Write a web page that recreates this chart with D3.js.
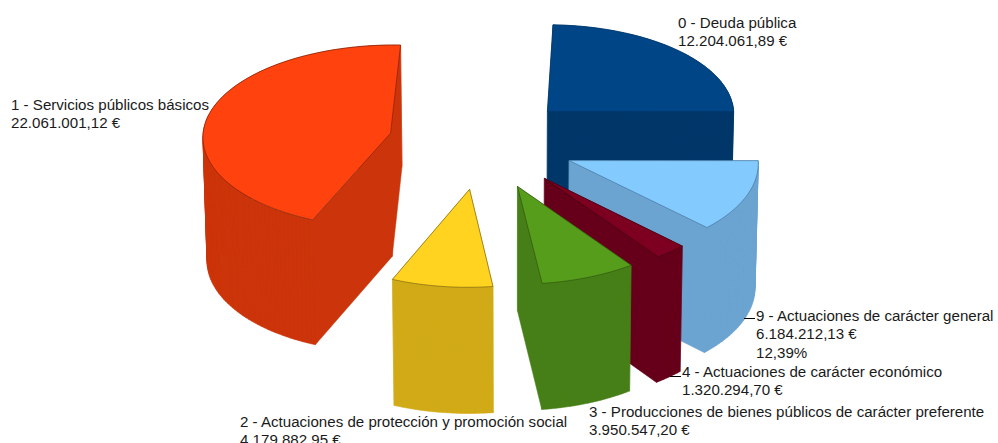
<!DOCTYPE html>
<html>
<head>
<meta charset="utf-8">
<style>
body { margin: 0; background: #fff; overflow: hidden; }
text { font-family: "Liberation Sans", Arial, sans-serif; font-size: 15.1px; fill: #1a1a1a; }
</style>
<script src="https://cdn.jsdelivr.net/npm/d3@7"></script>
</head>
<body>
<script>
// data, clockwise from the top of the pie
var categories = ["0 - Deuda pública", "9 - Actuaciones de carácter general", "4 - Actuaciones de carácter económico",
    "3 - Producciones de bienes públicos de carácter preferente", "2 - Actuaciones de protección y promoción social",
    "1 - Servicios públicos básicos"];
var values = [12204061.89, 6184212.13, 1320294.70, 3950547.20, 4179882.95, 22061001.12];
var showPercent = [false, true, false, false, false, false];

var topColors = ["#004586", "#83caff", "#7e0021", "#579d1c", "#ffd320", "#ff420e"];
var sideColors = ["#003769", "#6ca4d1", "#66001a", "#467f17", "#d1aa17", "#cc350b"];
var edgeColors = ["#003769", "#3f6f96", "#3a0010", "#2a4d0e", "#6e5a10", "#6e2006"];

// label layout: x, first baseline
var labelPos = [[678, 28], [756, 321], [682, 377], [589, 417], [240, 427], [11, 110]];
// leader lines: x1, x2, y (only where the label is moved away)
var leaders = [null, [744, 755, 318.5], [670, 681, 376.5], null, null, null];
// small sideways correction per slice
var nudge = [-3, -1, 0, 0, 0, -1];

var width = 998, height = 443;
var lineHt = 18.3;

// view of the pie
var radX = 188, radY = 90, explode = 0.5;
var cx = 483, cy = 143;
var rotate = 2;   // degrees

var svg = d3.select("body").append("svg").attr("width", width).attr("height", height);

var es = d3.formatLocale({ decimal: ",", thousands: ".", grouping: [3], currency: ["", " €"] });
var fmtMoney = es.format("$,.2f");
var fmtPct = es.format(".2%");

var pie = d3.pie().sort(null).value(function (d) { return d; })
    .startAngle(rotate * Math.PI / 180).endAngle((360 + rotate) * Math.PI / 180);
var slices = pie(values);
var total = d3.sum(values);

// rough perspective, the far side is squeezed and the near side grows
function project(mid, a, r, low) {
    var X = cx + radX * (explode * Math.sin(mid) + r * Math.sin(a));
    var t = -radY * (explode * Math.cos(mid) + r * Math.cos(a));
    var x = 525 + (X - 525) * (1 + 0.0003 * t);
    var y = cy + 1.021 * t + 0.00038 * t * t;
    if (low) {
        y += 123.5 + 0.02 * t;
        x = 515 + (x - 515) * 0.987;
    }
    return [x, y];
}

var line = d3.line();

function rim(d, low) {
    var mid = (d.startAngle + d.endAngle) / 2;
    var n = Math.ceil((d.endAngle - d.startAngle) * 40);
    return d3.range(n + 1).map(function (i) {
        return project(mid, d.startAngle + (d.endAngle - d.startAngle) * i / n, 1, low);
    });
}

function apex(d, low) {
    var mid = (d.startAngle + d.endAngle) / 2;
    return project(mid, 0, 0, low);
}

// far slices first
var order = d3.range(slices.length).sort(function (a, b) {
    var ma = (slices[a].startAngle + slices[a].endAngle) / 2;
    var mb = (slices[b].startAngle + slices[b].endAngle) / 2;
    return d3.descending(Math.cos(ma), Math.cos(mb));
});

order.forEach(function (i) {
    var d = slices[i];
    var g = svg.append("g").attr("transform", "translate(" + nudge[i] + ",0)");
    var top = rim(d, false), low = rim(d, true);
    var a0 = apex(d, false), a1 = apex(d, true);
    var walls = [
        [a0, top[0], low[0], a1],
        [a0, top[top.length - 1], low[low.length - 1], a1]
    ];
    d3.range(top.length - 1).forEach(function (k) {
        walls.push([top[k], top[k + 1], low[k + 1], low[k]]);
    });
    // all walls in one path with the same winding, so no seams and no holes
    var wallPath = walls.map(function (w) {
        if (d3.polygonArea(w) < 0) w = w.slice().reverse();
        return line(w) + "Z";
    }).join("");
    g.append("path")
        .attr("d", wallPath)
        .attr("fill", sideColors[i])
        .attr("stroke", sideColors[i])
        .attr("stroke-width", 0.5);
    g.append("path")
        .attr("d", line([a0].concat(top)) + "Z")
        .attr("fill", topColors[i])
        .attr("stroke", edgeColors[i])
        .attr("stroke-width", 0.6)
        .attr("stroke-linejoin", "round");
});

// labels
categories.forEach(function (c, i) {
    var lines = [c, fmtMoney(values[i])];
    if (showPercent[i]) lines.push(fmtPct(values[i] / total));
    var text = svg.append("text").attr("x", labelPos[i][0]).attr("y", labelPos[i][1]);
    lines.forEach(function (s, j) {
        text.append("tspan")
            .attr("x", labelPos[i][0])
            .attr("y", labelPos[i][1] + j * lineHt)
            .text(s);
    });
    if (leaders[i]) {
        svg.append("line")
            .attr("x1", leaders[i][0]).attr("x2", leaders[i][1])
            .attr("y1", leaders[i][2]).attr("y2", leaders[i][2])
            .attr("stroke", "#000").attr("stroke-width", 1);
    }
});
</script>
</body>
</html>
